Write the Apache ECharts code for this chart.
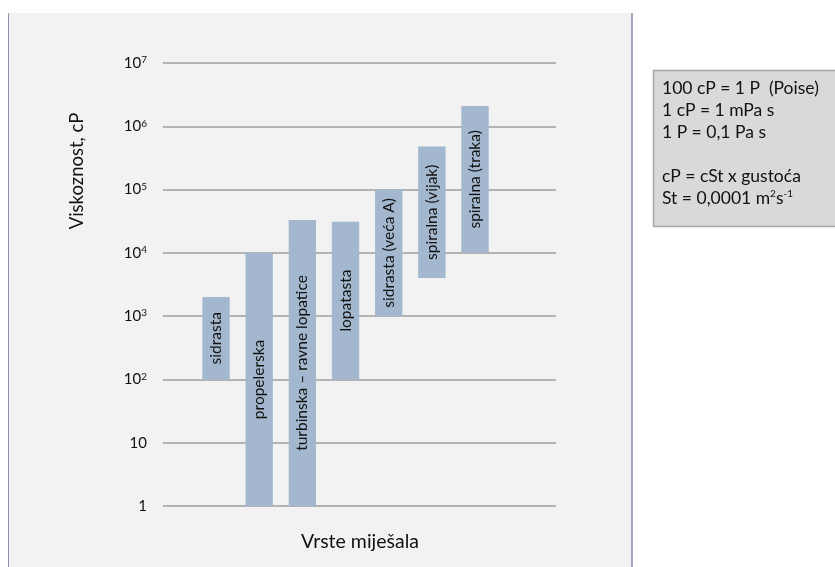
<!DOCTYPE html>
<html>
<head>
<meta charset="utf-8">
<script src="https://cdn.jsdelivr.net/npm/echarts@6/dist/echarts.min.js"></script>
<style>
html,body{margin:0;padding:0;background:#ffffff;}
#chart{width:835px;height:567px;}
</style>
</head>
<body>
<div id="chart"></div>
<script>
// Data
var categories = ['sidrasta', 'propelerska', 'turbinska – ravne lopatice', 'lopatasta', 'sidrasta (veća A)', 'spiralna (vijak)', 'spiralna (traka)'];
var lowValues  = [100, 1, 1, 100, 1000, 4000, 10000];
var highValues = [2000, 10000, 33000, 31000, 100000, 480000, 2100000];
var yTicks = [1, 10, 100, 1000, 10000, 100000, 1000000, 10000000];
var boxLines = ['100 cP = 1 P  (Poise)', '1 cP = 1 mPa s', '1 P = 0,1 Pa s', '', 'cP = cSt x gustoća'];

var FONT = 'Lato, "Open Sans", sans-serif';
var chart = echarts.init(document.getElementById('chart'), null, {renderer: 'canvas'});

var seriesData = categories.map(function (c, i) { return [i, lowValues[i], highValues[i], c]; });

function tickLabel(v) {
  var e = Math.round(Math.log10(v));
  if (e === 0) return '1';
  if (e === 1) return '10';
  return '10{sup|' + e + '}';
}

var boxText = boxLines.map(function (l) { return '{n|' + l + '}'; }).join('\n') + '\n{n|St = 0,0001 m}{s|2}{n|s}{s|-1}';

var option = {
  backgroundColor: '#ffffff',
  animation: false,
  textStyle: {fontFamily: FONT},
  graphic: [
    {type: 'rect', z: -10, silent: true, shape: {x: 8, y: 13, width: 624, height: 560}, style: {fill: '#f2f2f2'}},
    {type: 'line', z: -9, silent: true, shape: {x1: 8.5, y1: 13, x2: 8.5, y2: 567}, style: {stroke: '#8d91b3', lineWidth: 1}},
    {type: 'line', z: -9, silent: true, shape: {x1: 632, y1: 13, x2: 632, y2: 567}, style: {stroke: '#a3a7bd', lineWidth: 2}},
    {type: 'text', x: 77, y: 171, rotation: Math.PI / 2, style: {text: 'Viskoznost, cP', font: '18.5px ' + FONT, fill: '#111', align: 'center', verticalAlign: 'middle'}},
    {type: 'text', x: 360, y: 542, style: {text: 'Vrste miješala', font: '19.5px ' + FONT, fill: '#111', align: 'center', verticalAlign: 'middle'}},
    {type: 'rect', silent: true, shape: {x: 653.5, y: 70.5, width: 190, height: 156}, style: {fill: '#d9d9d9', stroke: '#a6a6a6', lineWidth: 1.5}},
    {type: 'text', x: 662, y: 77, style: {text: boxText, fill: '#111', rich: {
      n: {fontSize: 17.5, fontFamily: FONT, lineHeight: 22, fill: '#111'},
      s: {fontSize: 10, fontFamily: FONT, lineHeight: 22, verticalAlign: 'top', fill: '#111', padding: [2, 0, 0, 0]}
    }}}
  ],
  grid: {left: 163, right: 279, top: 63, bottom: 61, containLabel: false},
  xAxis: {
    type: 'value', min: -1.228, max: 7.876,
    show: false, splitLine: {show: false}
  },
  yAxis: {
    type: 'log', logBase: 10, min: 1, max: 10000000,
    axisLine: {show: false}, axisTick: {show: false},
    splitLine: {show: true, lineStyle: {color: '#b3b3b3', width: 2}},
    axisLabel: {
      margin: 16, color: '#111', fontSize: 15, fontFamily: FONT,
      formatter: tickLabel,
      rich: {sup: {fontSize: 10, fontFamily: FONT, verticalAlign: 'top', color: '#111', padding: [0, 0, 6, 0]}}
    }
  },
  series: [{
    type: 'custom',
    data: seriesData,
    encode: {x: 0, y: [1, 2]},
    renderItem: function (params, api) {
      var i = api.value(0);
      var p0 = api.coord([i - 0.317, api.value(1)]);
      var p1 = api.coord([i + 0.317, api.value(2)]);
      var x = p0[0], w = p1[0] - p0[0];
      var y = p1[1], h = p0[1] - p1[1];
      return {
        type: 'group',
        children: [
          {type: 'rect', shape: {x: x, y: y, width: w, height: h}, style: {fill: '#a3b8ce'}},
          {type: 'text', x: x + w / 2, y: y + h / 2, rotation: Math.PI / 2,
           style: {text: categories[i], font: '15.5px ' + FONT, fill: '#111', align: 'center', verticalAlign: 'middle'}}
        ]
      };
    }
  }]
};
chart.setOption(option);
</script>
</body>
</html>
